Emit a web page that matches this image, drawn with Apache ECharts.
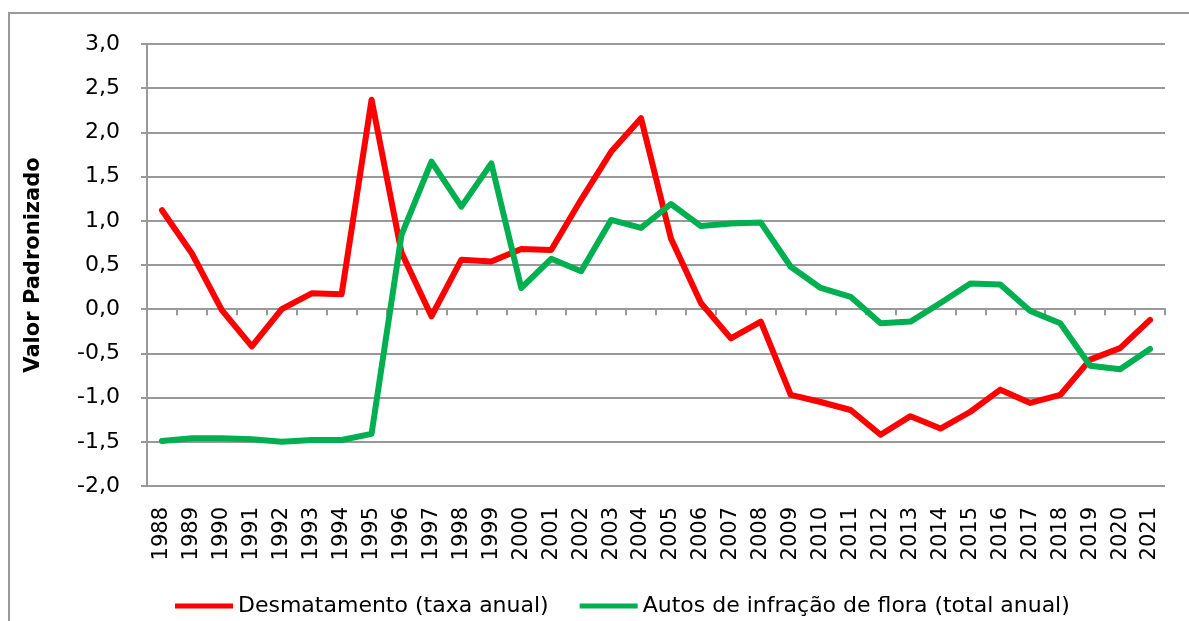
<!DOCTYPE html>
<html>
<head>
<meta charset="utf-8">
<script src="https://cdn.jsdelivr.net/npm/echarts@6/dist/echarts.min.js"></script>
<style>
  html, body { margin: 0; padding: 0; background: #fff; }
  #frame { position: absolute; left: 8px; top: 12px; width: 1181px; height: 609px; border-top: 2px solid #999; border-left: 2px solid #999; }
  #chart { position: absolute; left: 0; top: 0; width: 1189px; height: 621px; }
</style>
</head>
<body>
<div id="frame"></div>
<div id="chart"></div>
<script>
// anos
const years = ['1988', '1989', '1990', '1991', '1992', '1993', '1994', '1995', '1996', '1997', '1998', '1999',
  '2000', '2001', '2002', '2003', '2004', '2005', '2006', '2007', '2008', '2009', '2010', '2011',
  '2012', '2013', '2014', '2015', '2016', '2017', '2018', '2019', '2020', '2021']

// Desmatamento (taxa anual) - valor padronizado
const desmatamento = [1.12, 0.63, -0.01, -0.42, 0.0, 0.18, 0.17, 2.37, 0.64, -0.08, 0.56, 0.54,
  0.68, 0.67, 1.24, 1.78, 2.16, 0.80, 0.07, -0.33, -0.14, -0.97, -1.05, -1.14,
  -1.42, -1.21, -1.35, -1.16, -0.91, -1.06, -0.97, -0.57, -0.44, -0.12]

// Autos de infração de flora (total anual) - valor padronizado
const autos = [-1.49, -1.46, -1.46, -1.47, -1.50, -1.48, -1.48, -1.41, 0.84, 1.67, 1.16, 1.65,
  0.24, 0.57, 0.43, 1.01, 0.92, 1.19, 0.94, 0.97, 0.98, 0.48, 0.24, 0.14,
  -0.16, -0.14, 0.07, 0.29, 0.28, -0.02, -0.16, -0.64, -0.68, -0.45]

const myChart = echarts.init(document.querySelector('#chart'), null, { renderer: 'canvas' })

const font = 'DejaVu Sans, Liberation Sans, sans-serif'

myChart.setOption({
  animation: false,
  textStyle: { fontFamily: font },
  grid: {
    left: 147,
    right: 24,
    top: 44,
    bottom: 135,
  },
  legend: {
    top: 590,
    left: 170,
    icon: 'rect',
    itemWidth: 58,
    itemHeight: 5,
    itemGap: 31,
    textStyle: {
      fontSize: 22,
      color: '#000',
      fontFamily: font,
    },
    data: ['Desmatamento (taxa anual)', 'Autos de infração de flora (total anual)'],
  },
  xAxis: {
    type: 'category',
    data: years,
    boundaryGap: true,
    axisLine: {
      lineStyle: { color: '#999', width: 2 },
    },
    axisTick: {
      show: true,
      length: 6,
      lineStyle: { color: '#999', width: 2 },
    },
    axisLabel: {
      rotate: 90,
      interval: 0,
      margin: 21,
      fontSize: 21,
      color: '#000',
      fontFamily: font,
    },
  },
  yAxis: {
    type: 'value',
    min: -2,
    max: 3,
    interval: 0.5,
    name: 'Valor Padronizado',
    nameLocation: 'middle',
    nameRotate: 90,
    nameGap: 103,
    nameTextStyle: {
      fontSize: 21,
      fontWeight: 'bold',
      color: '#000',
      fontFamily: font,
    },
    axisLine: {
      show: true,
      lineStyle: { color: '#999', width: 2 },
    },
    axisTick: {
      show: true,
      length: 6,
      lineStyle: { color: '#999', width: 2 },
    },
    axisLabel: {
      margin: 27,
      fontSize: 22,
      color: '#000',
      fontFamily: font,
      formatter: (v) => v.toFixed(1).replace('.', ','),
    },
    splitLine: {
      lineStyle: { color: '#999', width: 2 },
    },
  },
  series: [
    {
      name: 'Desmatamento (taxa anual)',
      type: 'line',
      data: desmatamento,
      symbol: 'none',
      color: '#ff0000',
      lineStyle: { width: 6, color: '#ff0000', join: 'round', cap: 'round' },
    },
    {
      name: 'Autos de infração de flora (total anual)',
      type: 'line',
      data: autos,
      symbol: 'none',
      color: '#00b050',
      lineStyle: { width: 6, color: '#00b050', join: 'round', cap: 'round' },
    },
  ],
})
</script>
</body>
</html>
